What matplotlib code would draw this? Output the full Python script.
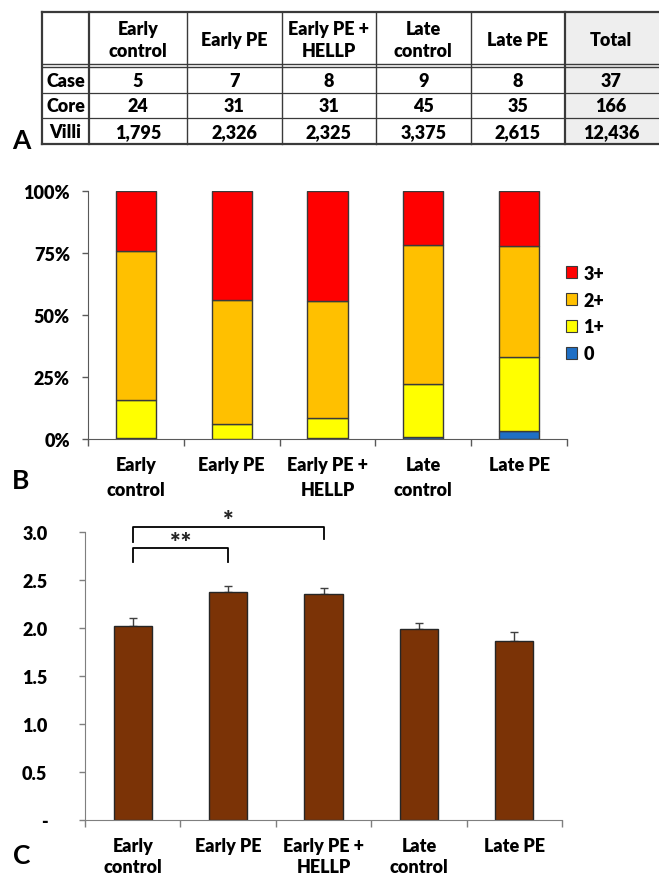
import matplotlib
matplotlib.use("Agg")
import matplotlib.pyplot as plt
from matplotlib.patches import Rectangle, Patch
import numpy as np

plt.rcParams['font.family'] = ['Lato', 'DejaVu Sans']
plt.rcParams['font.weight'] = 'heavy'
plt.rcParams['font.size'] = 13

# ---- data ----
groups = ['Early\ncontrol', 'Early PE', 'Early PE +\nHELLP', 'Late\ncontrol', 'Late PE']
row_names = ['Case', 'Core', 'Villi']
case_n = [5, 7, 8, 9, 8]
core_n = [24, 31, 31, 45, 35]
villi_n = [1795, 2326, 2325, 3375, 2615]

# panel B: % of villi per staining score
score_labels = ['0', '1+', '2+', '3+']
pct_0 = [0.4, 0.2, 0.6, 0.8, 3.4]
pct_1 = [15.4, 6.0, 8.0, 21.5, 29.5]
pct_2 = [59.9, 49.8, 47.1, 55.8, 45.0]
pct_3 = [24.3, 44.0, 44.3, 21.9, 22.1]

# panel C: mean score +/- error
score_mean = [2.02, 2.37, 2.35, 1.99, 1.86]
score_err = [0.08, 0.07, 0.07, 0.06, 0.10]

W, H = 659, 879
fig = plt.figure(figsize=(W / 100, H / 100), dpi=100)


def rect(left, top, right, bottom):
    return [left / W, 1 - bottom / H, (right - left) / W, (bottom - top) / H]


# ==========================================================================
# A: table (drawn in pixel coordinates)
# ==========================================================================
ax_t = fig.add_axes([0, 0, 1, 1])
ax_t.set_xlim(0, W)
ax_t.set_ylim(H, 0)
ax_t.axis('off')

col_x = [42, 89, 187, 281.5, 376, 470.5, 565, 700]
row_y = [13, 66.5, 93.5, 118.5, 145]
line_c = '#3a3a3a'

ax_t.add_patch(Rectangle((col_x[6], row_y[0]), col_x[7] - col_x[6], row_y[-1] - row_y[0],
                         facecolor='#eeeeee', edgecolor='none', zorder=0))
# horizontal lines
ax_t.plot([col_x[0], col_x[-1]], [row_y[0], row_y[0]], color=line_c, lw=1.6)
ax_t.plot([col_x[0], col_x[-1]], [row_y[-1], row_y[-1]], color=line_c, lw=1.6)
ax_t.plot([col_x[0], col_x[-1]], [65, 65], color=line_c, lw=1.0)
ax_t.plot([col_x[0], col_x[-1]], [68, 68], color=line_c, lw=1.0)
for y in row_y[2:4]:
    ax_t.plot([col_x[0], col_x[-1]], [y, y], color=line_c, lw=0.9)
# vertical lines
for i, x in enumerate(col_x[:-1]):
    lw = 1.6 if i in (0, 1, 6) else 1.0
    ax_t.plot([x, x], [row_y[0], row_y[-1]], color=line_c, lw=lw)

col_cx = [(col_x[i] + col_x[i + 1]) / 2 for i in range(len(col_x) - 1)]
col_cx[-1] = 611
headers = groups + ['Total']
for cx, h in zip(col_cx[1:], headers):
    ax_t.text(cx, 40.5, h, ha='center', va='center', linespacing=1.4)

row_cy = [81.5, 107, 133]
table_rows = [case_n, core_n, villi_n]
for cy, name, vals in zip(row_cy, row_names, table_rows):
    ax_t.text(col_cx[0], cy, name, ha='center', va='center')
    for cx, v in zip(col_cx[1:], list(vals) + [sum(vals)]):
        ax_t.text(cx, cy, f'{v:,}', ha='center', va='center')

ax_t.text(21, 141, 'A', ha='center', va='center', fontsize=19, weight='bold')
ax_t.text(21, 481, 'B', ha='center', va='center', fontsize=19, weight='bold')
ax_t.text(22, 856, 'C', ha='center', va='center', fontsize=19, weight='bold')

x = np.arange(len(groups))

# ==========================================================================
# B: stacked percentage bars
# ==========================================================================
ax_b = fig.add_axes(rect(88, 192, 567, 440))
stack = [pct_0, pct_1, pct_2, pct_3]
colors = ['#1f6fc5', '#ffff00', '#ffc000', '#ff0000']
bottom = np.zeros(len(groups))
for vals, c in zip(stack, colors):
    ax_b.bar(x, vals, width=0.42, bottom=bottom, color=c, edgecolor='#3a3a3a', lw=1)
    bottom += np.array(vals)

ax_b.set_xlim(-0.5, 4.5)
ax_b.set_ylim(0, 100)
ax_b.set_yticks([0, 25, 50, 75, 100])
ax_b.set_yticklabels(['0%', '25%', '50%', '75%', '100%'])
ax_b.set_xticks(x)
ax_b.set_xticklabels(groups, linespacing=1.6)
ax_b.set_xticks(np.arange(-0.5, 5, 1), minor=True)
ax_b.tick_params(axis='x', which='major', length=0, pad=12)
ax_b.tick_params(axis='x', which='minor', length=5, width=1, color='#595959')
ax_b.tick_params(axis='y', length=4, width=1, color='#595959', pad=9)
for s in ('top', 'right'):
    ax_b.spines[s].set_visible(False)
for s in ('left', 'bottom'):
    ax_b.spines[s].set_color('#595959')

handles = [Patch(facecolor=c, edgecolor='#3a3a3a', lw=0.8) for c in colors]
ax_b.legend(handles[::-1], score_labels[::-1], loc='center left',
            bbox_to_anchor=(0.998, 0.506), frameon=False, borderpad=0,
            borderaxespad=0, handlelength=0.62, handleheight=0.62,
            handletextpad=0.35, labelspacing=0.55)

# ==========================================================================
# C: mean score bars
# ==========================================================================
ax_c = fig.add_axes(rect(85, 533, 562, 821))
ax_c.bar(x, score_mean, width=0.40, color='#7b3306', edgecolor='#262626', lw=1, zorder=2)
ax_c.errorbar(x, score_mean, yerr=[np.zeros(len(x)), score_err], fmt='none',
              ecolor='#404040', elinewidth=1, capsize=3, capthick=1, zorder=1)
ax_c.set_xlim(-0.5, 4.5)
ax_c.set_ylim(0, 3)
yt = np.arange(0, 3.01, 0.5)
ax_c.set_yticks(yt)
ax_c.set_yticklabels(['-'] + [f'{v:.1f}' for v in yt[1:]])
ax_c.set_xticks(x)
ax_c.set_xticklabels(groups, linespacing=1.3)
ax_c.set_xticks(np.arange(-0.5, 5, 1), minor=True)
ax_c.tick_params(axis='x', which='major', length=0, pad=12)
ax_c.tick_params(axis='x', which='minor', length=5, width=1, color='#7f7f7f')
ax_c.tick_params(axis='y', length=4, width=1, color='#7f7f7f', pad=23)
for s in ('top', 'right'):
    ax_c.spines[s].set_visible(False)
for s in ('left', 'bottom'):
    ax_c.spines[s].set_color('#7f7f7f')

# significance brackets
ax_c.plot([0, 0, 1, 1], [2.69, 2.835, 2.835, 2.69], color='black', lw=1.3, clip_on=False)
ax_c.text(0.5, 2.90, '**', ha='center', va='center', fontsize=18, color='#262626')
ax_c.plot([0, 0, 2, 2], [2.90, 3.05, 3.05, 2.93], color='black', lw=1.3, clip_on=False)
ax_c.text(1.0, 3.12, '*', ha='center', va='center', fontsize=18, color='#262626')

fig.savefig('out.png', dpi=100)
